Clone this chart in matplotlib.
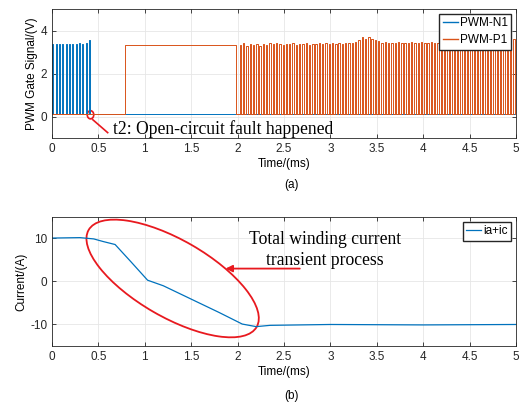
import numpy as np
import matplotlib
matplotlib.use('Agg')
import matplotlib.pyplot as plt
from matplotlib.patches import Ellipse
from matplotlib import transforms

plt.rcParams['font.family'] = 'Liberation Sans'
plt.rcParams['font.size'] = 8.5
plt.rcParams['axes.unicode_minus'] = False

blue = '#0072BD'
orange = '#D95319'
red = '#e8191f'

# gate pulses: rising edge (ms) and high level (V)
n1_rise = [0.004, 0.040, 0.076, 0.111, 0.147, 0.183, 0.219, 0.255, 0.291, 0.327, 0.362, 0.398]
n1_high = [3.35, 3.35, 3.35, 3.35, 3.35, 3.38, 3.36, 3.38, 3.40, 3.36, 3.42, 3.55]
n1_width = 0.011
n1_low = 0.12

p1_long = [0.785, 1.985]     # long on-interval after the fault
p1_long_high = 3.32
p1_rise = [2.022, 2.058, 2.093, 2.129, 2.164, 2.200, 2.235, 2.271, 2.306, 2.342,
           2.377, 2.413, 2.448, 2.484, 2.519, 2.555, 2.590, 2.626, 2.661, 2.697,
           2.732, 2.768, 2.803, 2.839, 2.874, 2.910, 2.945, 2.981, 3.016, 3.052,
           3.087, 3.123, 3.158, 3.194, 3.229, 3.265, 3.300, 3.336, 3.371, 3.407,
           3.442, 3.478, 3.513, 3.549, 3.584, 3.620, 3.655, 3.691, 3.726, 3.762,
           3.797, 3.833, 3.868, 3.904, 3.939, 3.975, 4.010, 4.046, 4.081, 4.117,
           4.152, 4.188, 4.223, 4.259, 4.294, 4.330, 4.365, 4.401, 4.436, 4.472,
           4.507, 4.543, 4.578, 4.614, 4.649, 4.685, 4.720, 4.756, 4.791, 4.827,
           4.862, 4.898, 4.933, 4.969]
p1_high = [3.32, 3.40, 3.30, 3.35, 3.32, 3.38, 3.30, 3.36, 3.33, 3.40,
           3.35, 3.42, 3.36, 3.33, 3.38, 3.35, 3.40, 3.32, 3.38, 3.36,
           3.40, 3.34, 3.38, 3.36, 3.42, 3.35, 3.40, 3.37, 3.42, 3.38,
           3.40, 3.36, 3.44, 3.40, 3.42, 3.48, 3.55, 3.70, 3.62, 3.68,
           3.60, 3.55, 3.50, 3.42, 3.45, 3.40, 3.44, 3.42, 3.45, 3.40,
           3.44, 3.42, 3.46, 3.40, 3.42, 3.45, 3.40, 3.44, 3.48, 3.42,
           3.40, 3.45, 3.42, 3.40, 3.44, 3.46, 3.50, 3.58, 3.48, 3.55,
           3.45, 3.42, 3.46, 3.40, 3.44, 3.42, 3.40, 3.45, 3.42, 3.44,
           3.40, 3.46, 3.42, 3.60]
p1_width = 0.015
p1_low = 0.12

# total winding current ia+ic
t_cur = [0.0, 0.30, 0.45, 0.55, 0.68, 0.85, 1.03, 1.20, 1.50, 1.80, 2.05, 2.20, 2.35, 3.0, 4.0, 5.0]
i_cur = [10.1, 10.2, 9.9, 9.3, 8.6, 4.6, 0.3, -1.0, -4.1, -7.2, -9.9, -10.5, -10.2, -10.0, -10.1, -10.0]


def pulse_train(low, rises, highs, widths, t_end=5.0):
    xs, ys = [0.0], [low]
    for r, h, w in zip(rises, highs, widths):
        xs += [r, r, r + w, r + w]
        ys += [low, h, h, low]
    xs.append(t_end)
    ys.append(low)
    return xs, ys


n1_x, n1_y = pulse_train(n1_low, n1_rise, n1_high, [n1_width] * len(n1_rise))
p1_x, p1_y = pulse_train(p1_low,
                         [p1_long[0]] + p1_rise,
                         [p1_long_high] + p1_high,
                         [p1_long[1] - p1_long[0]] + [p1_width] * len(p1_rise))

fig = plt.figure(figsize=(5.21, 4.04), dpi=100)
ax1 = fig.add_axes([0.0998, 0.6584, 0.8906, 0.3193])
ax2 = fig.add_axes([0.0998, 0.1436, 0.8906, 0.3193])

leg_kw = dict(loc='upper right', fontsize=8.5, handlelength=1.3, handletextpad=0.15,
              borderpad=0.3, labelspacing=0.4, fancybox=False, edgecolor='#262626',
              framealpha=1, borderaxespad=0.4)

for ax in (ax1, ax2):
    ax.grid(True, color='#e6e6e6', linewidth=0.6)
    ax.set_axisbelow(True)
    ax.tick_params(direction='in', length=3, width=0.6, top=True, right=True,
                   colors='#262626', labelsize=8.5)
    for s in ax.spines.values():
        s.set_color('#262626')
        s.set_linewidth(0.6)
    ax.set_xlim(0, 5)
    ax.set_xticks(np.arange(0, 5.01, 0.5))
    ax.set_xticklabels(['0', '0.5', '1', '1.5', '2', '2.5', '3', '3.5', '4', '4.5', '5'])
    ax.set_xlabel('Time/(ms)', labelpad=2)

ax1.plot(n1_x, n1_y, color=blue, linewidth=0.7, label='PWM-N1')
ax1.plot(p1_x, p1_y, color=orange, linewidth=0.7, label='PWM-P1')
ax1.set_ylim(-1, 5)
ax1.set_yticks([0, 2, 4])
ax1.set_ylabel('PWM Gate Signal/(V)', labelpad=2)
leg1 = ax1.legend(**leg_kw)
for ln in leg1.get_lines():
    ln.set_linewidth(1.0)

# fault marker
ax1.add_patch(Ellipse((0.415, 0.08), 0.07, 0.38, fill=False, edgecolor=red, linewidth=1.2))
ax1.plot([0.44, 0.60], [-0.15, -0.75], color=red, linewidth=1.2)
ax1.text(0.655, -0.58, 't2: Open-circuit fault happened', family='Liberation Serif',
         fontsize=12.7, va='center', ha='left')

ax2.plot(t_cur, i_cur, color=blue, linewidth=0.9, label='ia+ic')
ax2.set_ylim(-15, 15)
ax2.set_yticks([-10, 0, 10])
ax2.set_ylabel('Current/(A)', labelpad=2)
ax2.legend(**leg_kw)

# ellipse drawn in pixel units around the transient
tr = transforms.ScaledTranslation(1.30, 0.7, ax2.transData)
ax2.add_patch(Ellipse((0, 0), 194, 77, angle=-30, fill=False, edgecolor=red,
                      linewidth=1.3, transform=tr, clip_on=False))
ax2.annotate('', xy=(1.87, 3.0), xytext=(2.67, 3.0),
             arrowprops=dict(arrowstyle='-|>', color=red, lw=1.3,
                             mutation_scale=10, shrinkA=0, shrinkB=0))
ax2.text(2.94, 7.3, 'Total winding current\ntransient process', family='Liberation Serif',
         fontsize=12.7, ha='center', va='center', linespacing=1.35)

fig.text(0.56, (404 - 185) / 404, '(a)', ha='center', va='center', fontsize=8.5)
fig.text(0.56, (404 - 396) / 404, '(b)', ha='center', va='center', fontsize=8.5)

fig.savefig('out.png', dpi=100)
